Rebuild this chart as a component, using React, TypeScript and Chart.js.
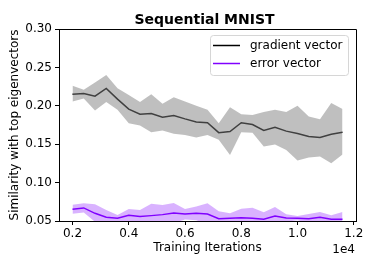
import React, { useEffect, useRef } from "react";
import { Chart, registerables } from "chart.js";

Chart.register(...registerables);

const iterations = [2000, 2400, 2800, 3200, 3600, 4000, 4400, 4800, 5200, 5600, 6000, 6400, 6800, 7200, 7600, 8000, 8400, 8800, 9200, 9600, 10000, 10400, 10800, 11200, 11600];

const gradMean = [0.215, 0.216, 0.2126, 0.2226, 0.2087, 0.1957, 0.189, 0.19, 0.185, 0.1874, 0.183, 0.179, 0.178, 0.165, 0.1665, 0.178, 0.1757, 0.168, 0.172, 0.167, 0.164, 0.16, 0.1587, 0.163, 0.1657];
const gradUpper = [0.226, 0.221, 0.2304, 0.24, 0.223, 0.214, 0.205, 0.215, 0.2026, 0.211, 0.2057, 0.2, 0.1948, 0.1774, 0.198, 0.189, 0.188, 0.192, 0.1948, 0.192, 0.2, 0.186, 0.1826, 0.2035, 0.1957];
const gradLower = [0.2057, 0.2096, 0.194, 0.205, 0.1948, 0.1774, 0.1743, 0.1657, 0.168, 0.1635, 0.162, 0.1587, 0.162, 0.1557, 0.136, 0.1657, 0.165, 0.147, 0.1496, 0.1426, 0.1287, 0.1326, 0.134, 0.1252, 0.1365];

const errMean = [0.0652, 0.067, 0.06, 0.0548, 0.0535, 0.0574, 0.056, 0.057, 0.0583, 0.0604, 0.0591, 0.06, 0.0591, 0.053, 0.0535, 0.0543, 0.0535, 0.0522, 0.0565, 0.054, 0.0535, 0.053, 0.0548, 0.0522, 0.0522];
const errUpper = [0.0713, 0.073, 0.0717, 0.0643, 0.0578, 0.0657, 0.0643, 0.0726, 0.0709, 0.0735, 0.0657, 0.069, 0.073, 0.0626, 0.06, 0.066, 0.0674, 0.0613, 0.0683, 0.0587, 0.0565, 0.0591, 0.0617, 0.0574, 0.0617];
const errLower = [0.0595, 0.061, 0.049, 0.045, 0.049, 0.049, 0.048, 0.042, 0.046, 0.047, 0.052, 0.051, 0.045, 0.043, 0.047, 0.043, 0.04, 0.043, 0.045, 0.049, 0.051, 0.047, 0.048, 0.047, 0.043];

const xTicks = [2000, 4000, 6000, 8000, 10000, 12000];
const yTicks = [0.05, 0.1, 0.15, 0.2, 0.25, 0.3];
const legendLabels = ["gradient vector", "error vector"];
const titleText = "Sequential MNIST";

const FONT = "'DejaVu Sans', sans-serif";
const PURPLE = "#8000ff";

const pts = (ys: number[]) => ys.map((y, i) => ({ x: iterations[i], y }));

const overlayPlugin = {
  id: "overlay",
  afterDraw(chart: any) {
    const { ctx, chartArea } = chart;
    ctx.save();
    // title
    ctx.fillStyle = "#000";
    ctx.font = `bold 14px ${FONT}`;
    ctx.textAlign = "center";
    ctx.textBaseline = "alphabetic";
    ctx.fillText(titleText, (chartArea.left + chartArea.right) / 2 - 3, 24);
    // offset text
    ctx.font = `12px ${FONT}`;
    ctx.textAlign = "right";
    ctx.fillText("1e4", chartArea.right - 1, 253);
    // legend
    const bx = 210.5, by = 35.5, bw = 138, bh = 40, r = 3;
    ctx.beginPath();
    ctx.moveTo(bx + r, by);
    ctx.arcTo(bx + bw, by, bx + bw, by + bh, r);
    ctx.arcTo(bx + bw, by + bh, bx, by + bh, r);
    ctx.arcTo(bx, by + bh, bx, by, r);
    ctx.arcTo(bx, by, bx + bw, by, r);
    ctx.closePath();
    ctx.fillStyle = "rgba(255,255,255,0.8)";
    ctx.fill();
    ctx.strokeStyle = "#d6d6d6";
    ctx.lineWidth = 1;
    ctx.stroke();
    const colors = ["#000000", PURPLE];
    legendLabels.forEach((lab, i) => {
      const y = 45.5 + i * 18;
      ctx.beginPath();
      ctx.moveTo(213, y);
      ctx.lineTo(240, y);
      ctx.strokeStyle = colors[i];
      ctx.lineWidth = 1.5;
      ctx.stroke();
      ctx.fillStyle = "#000";
      ctx.font = `12px ${FONT}`;
      ctx.textAlign = "left";
      ctx.textBaseline = "middle";
      ctx.fillText(lab, 250, y);
    });
    ctx.restore();
  },
};

export default function App() {
  const ref = useRef<HTMLCanvasElement | null>(null);
  useEffect(() => {
    document.body.style.margin = "0";
    const chart = new Chart(ref.current as HTMLCanvasElement, {
      type: "line",
      data: {
        datasets: [
          { data: pts(gradUpper), borderWidth: 0, pointRadius: 0, fill: "+1", backgroundColor: "rgba(128,128,128,0.5)", borderColor: "rgba(0,0,0,0)", tension: 0 },
          { data: pts(gradLower), borderWidth: 0, pointRadius: 0, fill: false, borderColor: "rgba(0,0,0,0)" },
          { data: pts(gradMean), borderWidth: 1.5, pointRadius: 0, fill: false, borderColor: "#000000" },
          { data: pts(errUpper), borderWidth: 0, pointRadius: 0, fill: "+1", backgroundColor: "rgba(128,0,255,0.3)", borderColor: "rgba(0,0,0,0)" },
          { data: pts(errLower), borderWidth: 0, pointRadius: 0, fill: false, borderColor: "rgba(0,0,0,0)" },
          { data: pts(errMean), borderWidth: 1.5, pointRadius: 0, fill: false, borderColor: PURPLE },
        ],
      },
      options: {
        animation: false,
        responsive: false,
        maintainAspectRatio: false,
        layout: { padding: { left: 0, right: 18, top: 29, bottom: 0 } },
        plugins: { legend: { display: false }, tooltip: { enabled: false }, title: { display: false } },
        scales: {
          x: {
            type: "linear",
            min: 1520,
            max: 12080,
            afterBuildTicks: (s: any) => { s.ticks = xTicks.map((v) => ({ value: v })); },
            afterFit: (s: any) => { s.height = 48; },
            ticks: {
              color: "#000",
              font: { family: FONT, size: 12 },
              padding: 2,
              maxRotation: 0,
              callback: (v: any) => (Number(v) / 10000).toFixed(1),
            },
            grid: { drawOnChartArea: false, tickLength: 4, color: "#000" },
            border: { display: true, color: "#000", width: 1 },
            title: { display: true, text: "Training Iterations", color: "#000", font: { family: FONT, size: 12 }, padding: { top: 0, bottom: 14 } },
          },
          y: {
            min: 0.05,
            max: 0.3,
            afterBuildTicks: (s: any) => { s.ticks = yTicks.map((v) => ({ value: v })); },
            afterFit: (s: any) => { s.width = 59; },
            ticks: {
              color: "#000",
              font: { family: FONT, size: 12 },
              padding: 3,
              callback: (v: any) => Number(v).toFixed(2),
            },
            grid: { drawOnChartArea: false, tickLength: 4, color: "#000" },
            border: { display: true, color: "#000", width: 1 },
            title: { display: true, text: "Similarity with top eigenvectors", color: "#000", font: { family: FONT, size: 12 }, padding: { top: 8, bottom: 0 } },
          },
        },
      },
      plugins: [
        overlayPlugin,
        {
          id: "frame",
          afterDraw(chart: any) {
            const { ctx, chartArea: a } = chart;
            ctx.save();
            ctx.strokeStyle = "#000";
            ctx.lineWidth = 1;
            ctx.beginPath();
            ctx.moveTo(a.left, a.top + 0.5);
            ctx.lineTo(a.right + 0.5, a.top + 0.5);
            ctx.lineTo(a.right + 0.5, a.bottom);
            ctx.stroke();
            ctx.restore();
          },
        },
      ],
    } as any);
    return () => chart.destroy();
  }, []);
  return (
    <div style={{ position: "absolute", left: 0, top: 0, width: 374, height: 269 }}>
      <canvas ref={ref} width={374} height={269} style={{ width: 374, height: 269 }} />
    </div>
  );
}
